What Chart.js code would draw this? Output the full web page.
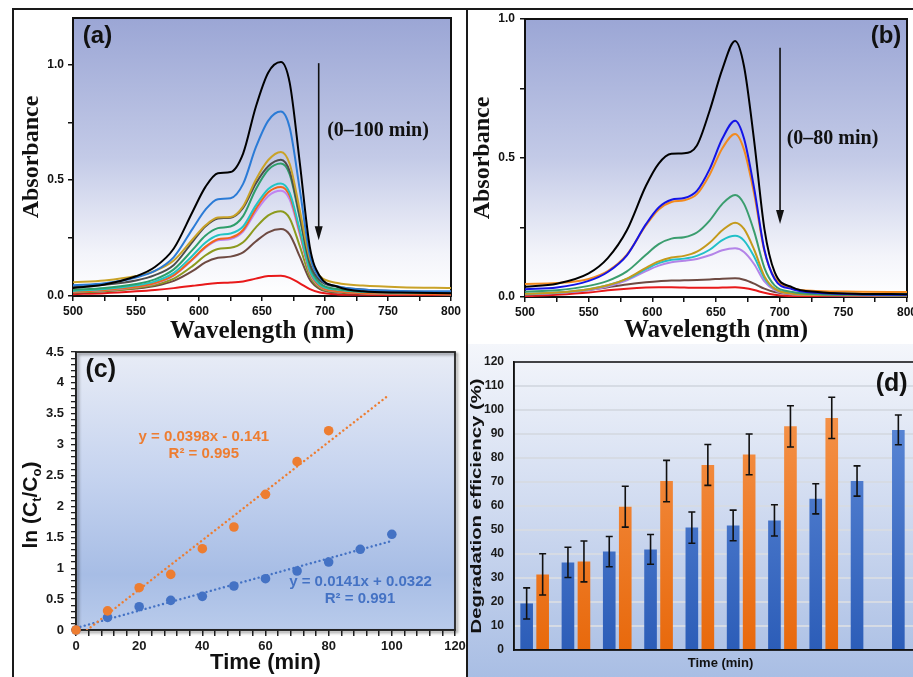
<!DOCTYPE html>
<html>
<head>
<meta charset="utf-8">
<script src="https://cdn.jsdelivr.net/npm/chart.js@4.4.1/dist/chart.umd.min.js"></script>
<style>
html,body{margin:0;padding:0;width:913px;height:677px;overflow:hidden;background:#fff;position:relative;}
canvas{position:absolute;}
.ln{position:absolute;background:#1a1a1a;}
</style>
</head>
<body>
<div class="ln" style="left:12px;top:8px;width:2px;height:669px"></div>
<div class="ln" style="left:12px;top:8px;width:901px;height:2px"></div>
<div class="ln" style="left:466px;top:8px;width:2px;height:669px"></div>
<canvas id="cd" width="472" height="333" style="left:468px;top:344px;width:472px;height:333px"></canvas>
<canvas id="ca" width="452" height="340" style="left:14px;top:10px;width:452px;height:340px"></canvas>
<canvas id="cb" width="445" height="340" style="left:468px;top:10px;width:445px;height:340px"></canvas>
<canvas id="cc" width="452" height="337" style="left:14px;top:340px;width:452px;height:337px"></canvas>
<script>
// ---------------- DATA ----------------
// (a) and (b): UV-vis spectra, wavelength grid (nm)
const wavelengths = [500,525,550,565,580,595,605,615,625,635,645,655,665,672,680,688,696,710,730,760,800];

// (a) 0–100 min
const a_0min   = [0.035,0.050,0.085,0.125,0.205,0.365,0.470,0.530,0.535,0.615,0.815,0.965,1.010,0.920,0.575,0.210,0.085,0.040,0.020,0.015,0.012];
const a_10min  = [0.046,0.055,0.080,0.108,0.168,0.291,0.372,0.418,0.422,0.484,0.640,0.757,0.796,0.726,0.459,0.176,0.077,0.042,0.028,0.022,0.020];
const a_20min  = [0.059,0.067,0.086,0.108,0.153,0.245,0.304,0.339,0.341,0.387,0.501,0.587,0.622,0.570,0.370,0.160,0.085,0.056,0.045,0.038,0.035];
const a_30min  = [0.039,0.048,0.067,0.090,0.134,0.235,0.300,0.335,0.338,0.380,0.485,0.560,0.588,0.538,0.344,0.140,0.067,0.040,0.028,0.020,0.015];
const a_40min  = [0.027,0.035,0.052,0.072,0.115,0.200,0.260,0.293,0.300,0.345,0.460,0.545,0.572,0.525,0.335,0.130,0.055,0.030,0.020,0.016,0.014];
const a_50min  = [0.022,0.030,0.046,0.063,0.100,0.175,0.230,0.262,0.270,0.300,0.390,0.462,0.486,0.445,0.285,0.110,0.048,0.027,0.018,0.015,0.013];
const a_60min  = [0.018,0.026,0.040,0.056,0.090,0.160,0.212,0.245,0.252,0.285,0.375,0.448,0.471,0.432,0.275,0.105,0.042,0.020,0.012,0.010,0.008];
const a_70min  = [0.018,0.025,0.039,0.054,0.088,0.157,0.208,0.240,0.246,0.278,0.363,0.432,0.454,0.416,0.265,0.100,0.040,0.020,0.012,0.010,0.008];
const a_80min  = [0.016,0.022,0.035,0.048,0.075,0.130,0.175,0.203,0.208,0.232,0.295,0.348,0.366,0.335,0.215,0.085,0.035,0.018,0.012,0.010,0.008];
const a_90min  = [0.015,0.020,0.032,0.043,0.065,0.108,0.145,0.165,0.170,0.188,0.235,0.275,0.289,0.265,0.170,0.070,0.030,0.015,0.010,0.008,0.007];
const a_100min = [0.008,0.012,0.020,0.026,0.034,0.044,0.051,0.056,0.058,0.063,0.075,0.086,0.087,0.078,0.055,0.030,0.015,0.007,0.005,0.004,0.004];

// (b) 0–80 min
const b_0min  = [0.037,0.048,0.085,0.140,0.240,0.400,0.480,0.515,0.517,0.545,0.670,0.820,0.921,0.830,0.560,0.245,0.090,0.035,0.018,0.012,0.010];
const b_10min = [0.028,0.034,0.058,0.090,0.150,0.262,0.322,0.350,0.356,0.382,0.460,0.570,0.634,0.570,0.390,0.170,0.065,0.028,0.015,0.010,0.008];
const b_20min = [0.047,0.050,0.065,0.093,0.152,0.258,0.315,0.342,0.348,0.370,0.440,0.535,0.586,0.530,0.370,0.165,0.070,0.032,0.022,0.019,0.018];
const b_30min = [0.019,0.024,0.040,0.058,0.092,0.152,0.190,0.210,0.215,0.232,0.275,0.335,0.367,0.335,0.235,0.105,0.042,0.018,0.010,0.008,0.006];
const b_40min = [0.012,0.016,0.028,0.042,0.066,0.105,0.128,0.142,0.148,0.163,0.195,0.240,0.267,0.245,0.170,0.075,0.030,0.012,0.008,0.006,0.005];
const b_50min = [0.012,0.016,0.028,0.042,0.065,0.100,0.122,0.134,0.138,0.148,0.170,0.205,0.220,0.203,0.145,0.068,0.030,0.015,0.012,0.011,0.010];
const b_60min = [0.010,0.014,0.025,0.038,0.060,0.093,0.113,0.125,0.130,0.137,0.150,0.168,0.175,0.162,0.118,0.056,0.025,0.010,0.007,0.006,0.005];
const b_70min = [0.008,0.014,0.025,0.035,0.045,0.053,0.057,0.059,0.060,0.061,0.063,0.066,0.067,0.062,0.048,0.030,0.018,0.010,0.007,0.006,0.005];
const b_80min = [0.003,0.008,0.016,0.024,0.030,0.034,0.035,0.035,0.034,0.033,0.033,0.034,0.035,0.032,0.025,0.015,0.008,0.003,0.002,0.002,0.002];

// (c) kinetics ln(Ct/Co)
const timeOrange = [0,10,20,30,40,50,60,70,80];
const lnOrange   = [0,0.31,0.685,0.90,1.316,1.667,2.196,2.725,3.226];
const timeBlue   = [0,10,20,30,40,50,60,70,80,90,100];
const lnBlue     = [0,0.205,0.377,0.48,0.545,0.712,0.83,0.955,1.10,1.306,1.549];
// trend-line end points (from the fitted equations shown)
const fitOrangeX = [3.5, 99];
const fitOrangeY = [0, 3.80];
const fitBlueX   = [0, 100];
const fitBlueY   = [0.0322, 1.4422];

// (d) degradation efficiency (%)
const timeCats   = ['10','20','30','40','50','60','70','80','90','100'];
const effBlue    = [19.4,36.5,41,41.9,51,51.9,54,63,70.4,91.7];
const errBlue    = [6.5,6.3,6.3,6.2,6.5,6.4,6.5,6.3,6.3,6.2];
const effOrange  = [31.5,36.9,59.7,70.4,77.1,81.5,93.2,96.7];
const errOrange  = [8.6,8.5,8.5,8.6,8.5,8.5,8.6,8.6];

// ---------------- STYLE / HELPERS ----------------
const SANS = "'Liberation Sans', Arial, sans-serif";
const SERIF = "'Liberation Serif', 'Times New Roman', serif";
Chart.defaults.font.family = SANS;
Chart.defaults.color = '#111';
Chart.defaults.animation = false;

function fixScale(size) {
  return function (scale) {
    if (scale.isHorizontal()) scale.height = size; else scale.width = size;
    scale.paddingLeft = 0; scale.paddingRight = 0; scale.paddingTop = 0; scale.paddingBottom = 0;
  };
}
function bgPlugin(panelStops, areaStops) {
  return { id: 'bg', beforeDraw(chart) {
    const { ctx, chartArea: ca, width, height } = chart;
    ctx.save();
    if (panelStops) {
      const g = ctx.createLinearGradient(0, 0, 0, height);
      panelStops.forEach(s => g.addColorStop(s[0], s[1]));
      ctx.fillStyle = g; ctx.fillRect(0, 0, width, height);
    }
    if (areaStops) {
      const g = ctx.createLinearGradient(0, ca.top, 0, ca.bottom);
      areaStops.forEach(s => g.addColorStop(s[0], s[1]));
      ctx.fillStyle = g; ctx.fillRect(ca.left, ca.top, ca.right - ca.left, ca.bottom - ca.top);
    }
    ctx.restore();
  } };
}
function framePlugin(color, lw, shadow) {
  return { id: 'frame', beforeDatasetsDraw(chart) {
    const { ctx, chartArea: ca } = chart;
    ctx.save();
    if (shadow) { ctx.shadowColor = 'rgba(0,0,0,0.45)'; ctx.shadowBlur = 3; ctx.shadowOffsetX = 2; ctx.shadowOffsetY = 2; }
    ctx.strokeStyle = color; ctx.lineWidth = lw;
    ctx.strokeRect(ca.left, ca.top, ca.right - ca.left, ca.bottom - ca.top);
    ctx.restore();
  } };
}
function textPlugin(items) {
  return { id: 'texts', afterDraw(chart) {
    const ctx = chart.ctx;
    items.forEach(it => {
      ctx.save();
      ctx.translate(it.px, it.py);
      if (it.rotate) ctx.rotate(it.rotate);
      if (it.sx) ctx.scale(it.sx, 1);
      ctx.fillStyle = it.color || '#111';
      ctx.textBaseline = 'middle';
      ctx.textAlign = 'left';
      const fam = it.family || SANS;
      const parts = it.parts || [{ t: it.text }];
      let total = 0;
      const fs = parts.map(p => {
        const s = p.sub ? it.size * 0.62 : it.size;
        const f = 'bold ' + s + 'px ' + fam;
        ctx.font = f;
        const w = ctx.measureText(p.t).width;
        total += w;
        return { f: f, w: w, dy: p.sub ? it.size * 0.3 : 0 };
      });
      let cx = -total / 2;
      parts.forEach((p, i) => { ctx.font = fs[i].f; ctx.fillText(p.t, cx, fs[i].dy); cx += fs[i].w; });
      ctx.restore();
    });
  } };
}
function arrowPlugin(ax, ay1, ay2) {
  return { id: 'arrow', afterDatasetsDraw(chart) {
    const ctx = chart.ctx;
    const x = chart.scales.x.getPixelForValue(ax);
    const y1 = chart.scales.y.getPixelForValue(ay1);
    const y2 = chart.scales.y.getPixelForValue(ay2);
    ctx.save();
    ctx.strokeStyle = '#111'; ctx.fillStyle = '#111'; ctx.lineWidth = 1.6;
    ctx.beginPath(); ctx.moveTo(x, y1); ctx.lineTo(x, y2 - 10); ctx.stroke();
    ctx.beginPath(); ctx.moveTo(x - 4, y2 - 14); ctx.lineTo(x + 4, y2 - 14); ctx.lineTo(x, y2); ctx.closePath(); ctx.fill();
    ctx.restore();
  } };
}
function errPlugin(errs) {
  return { id: 'errbars', afterDatasetsDraw(chart) {
    const ctx = chart.ctx, ys = chart.scales.y;
    ctx.save();
    ctx.strokeStyle = '#111'; ctx.lineWidth = 1.6;
    errs.forEach((err, di) => {
      const meta = chart.getDatasetMeta(di);
      const vals = chart.data.datasets[di].data;
      meta.data.forEach((bar, j) => {
        const x = bar.x;
        const yt = ys.getPixelForValue(vals[j] + err[j]);
        const yb = ys.getPixelForValue(vals[j] - err[j]);
        ctx.beginPath();
        ctx.moveTo(x, yt); ctx.lineTo(x, yb);
        ctx.moveTo(x - 3.5, yt); ctx.lineTo(x + 3.5, yt);
        ctx.moveTo(x - 3.5, yb); ctx.lineTo(x + 3.5, yb);
        ctx.stroke();
      });
    });
    ctx.restore();
  } };
}
function vGrad(top, bottom) {
  return function (c) {
    const ch = c.chart, ca = ch.chartArea;
    if (!ca) return bottom;
    const g = ch.ctx.createLinearGradient(0, ca.bottom, 0, ca.top);
    g.addColorStop(0, bottom); g.addColorStop(1, top);
    return g;
  };
}
const isMult = (v, m) => Math.abs(v / m - Math.round(v / m)) < 1e-6;

// ---------------- (a) / (b) spectra ----------------
const specBg = [[0, '#9ba6d5'], [0.5, '#c3cae7'], [0.85, '#f3f4fa'], [1, '#ffffff']];
function spectrumChart(id, curves, colors, L) {
  return new Chart(document.getElementById(id), {
    type: 'line',
    data: { datasets: curves.map((arr, i) => ({
      data: wavelengths.map((w, j) => ({ x: w, y: arr[j] })),
      borderColor: colors[i], borderWidth: 2, pointRadius: 0, fill: false,
      cubicInterpolationMode: 'monotone'
    })) },
    options: {
      responsive: false, animation: false, events: [],
      layout: { padding: { left: 0, top: L.top, right: L.right, bottom: 0 } },
      plugins: { legend: { display: false }, tooltip: { enabled: false } },
      scales: {
        x: { type: 'linear', min: 500, max: 800, afterFit: fixScale(L.xH),
          ticks: { stepSize: 25, autoSkip: false, maxRotation: 0, padding: 3, color: '#111',
            font: { size: 12, weight: 'bold' }, callback: v => isMult(v, 50) ? String(v) : '' },
          grid: { drawOnChartArea: false, drawTicks: true, tickLength: 5, color: '#111', lineWidth: 1.5 },
          border: { display: true, color: '#111', width: 2 },
          title: { display: true, text: 'Wavelength (nm)', color: '#111',
            font: { family: SERIF, size: 25, weight: 'bold' }, padding: { top: 0, bottom: L.xtp } } },
        y: { type: 'linear', min: 0, max: L.yMax, afterFit: fixScale(L.yW),
          ticks: { stepSize: 0.25, includeBounds: false, autoSkip: false, padding: L.yPad, color: '#111',
            font: { size: 12, weight: 'bold' }, callback: v => isMult(v, 0.5) ? v.toFixed(1) : '' },
          grid: { drawOnChartArea: false, drawTicks: true, tickLength: 5, color: '#111', lineWidth: 1.5 },
          border: { display: true, color: '#111', width: 2 },
          title: { display: true, text: 'Absorbance', color: '#111',
            font: { family: SERIF, size: 24, weight: 'bold' }, padding: { top: L.ytp, bottom: 0 } } }
      }
    },
    plugins: [bgPlugin(null, specBg), framePlugin('#111', 2, false), arrowPlugin(L.ax, L.ay1, L.ay2), textPlugin(L.texts)]
  });
}

spectrumChart('ca',
  [a_0min, a_10min, a_20min, a_30min, a_40min, a_50min, a_60min, a_70min, a_80min, a_90min, a_100min],
  ['#000000', '#2b7bd6', '#c9a227', '#4d4d4d', '#2e9e6b', '#22c4c4', '#f2661c', '#c084f0', '#8c9a1e', '#6e4a42', '#e8191a'],
  { top: 8, right: 15, xH: 54, yW: 59, yMax: 1.2, yPad: 4, xtp: 3.6, ytp: 3.6,
    ax: 695, ay1: 1.005, ay2: 0.241,
    texts: [
      { text: '(a)', px: 83.5, py: 26, size: 24 },
      { text: '(0–100 min)', px: 364, py: 121, size: 20, family: SERIF }
    ] });

spectrumChart('cb',
  [b_0min, b_10min, b_20min, b_30min, b_40min, b_50min, b_60min, b_70min, b_80min],
  ['#000000', '#1414e6', '#f28a1e', '#3a9d6e', '#c49a1c', '#22c0c8', '#b384e8', '#6e4a42', '#e8191a'],
  { top: 9, right: 6, xH: 53, yW: 57, yMax: 1.0, yPad: 5, xtp: 4.6, ytp: 0,
    ax: 700.3, ay1: 0.897, ay2: 0.263,
    texts: [
      { text: '(b)', px: 418, py: 26, size: 24 },
      { text: '(0–80 min)', px: 364.5, py: 129, size: 20, family: SERIF }
    ] });

// ---------------- (c) kinetics ----------------
const ORANGE = '#ed7d31', BLUE = '#4472c4';
new Chart(document.getElementById('cc'), {
  type: 'scatter',
  data: { datasets: [
    { data: timeOrange.map((t, i) => ({ x: t, y: lnOrange[i] })), backgroundColor: ORANGE, borderWidth: 0, pointRadius: 4.8, clip: false },
    { data: timeBlue.map((t, i) => ({ x: t, y: lnBlue[i] })), backgroundColor: BLUE, borderWidth: 0, pointRadius: 4.8, clip: false },
    { data: fitOrangeX.map((t, i) => ({ x: t, y: fitOrangeY[i] })), showLine: true, pointRadius: 0,
      borderColor: ORANGE, borderWidth: 2.4, borderDash: [0.01, 4.5], borderCapStyle: 'round' },
    { data: fitBlueX.map((t, i) => ({ x: t, y: fitBlueY[i] })), showLine: true, pointRadius: 0,
      borderColor: BLUE, borderWidth: 2.4, borderDash: [0.01, 4.5], borderCapStyle: 'round' }
  ] },
  options: {
    responsive: false, animation: false, events: [],
    layout: { padding: { left: 0, top: 12, right: 11, bottom: 0 } },
    plugins: { legend: { display: false }, tooltip: { enabled: false } },
    scales: {
      x: { type: 'linear', min: 0, max: 120, afterFit: fixScale(47),
        ticks: { stepSize: 4, autoSkip: false, maxRotation: 0, padding: 3, color: '#1a1a1a',
          font: { size: 13, weight: 'bold' }, callback: v => isMult(v, 20) ? String(v) : '' },
        grid: { drawOnChartArea: false, drawTicks: true, tickLength: 6, color: '#222', lineWidth: 1.5 },
        border: { display: true, color: '#222', width: 1.5 },
        title: { display: true, text: 'Time (min)', color: '#111',
          font: { size: 22, weight: 'bold' }, padding: { top: 0, bottom: 0.8 } } },
      y: { type: 'linear', min: 0, max: 4.5, afterFit: fixScale(62),
        ticks: { stepSize: 0.1, autoSkip: false, padding: 7, color: '#1a1a1a',
          font: { size: 13, weight: 'bold' }, callback: v => isMult(v, 0.5) ? String(Math.round(v * 10) / 10) : '' },
        grid: { drawOnChartArea: false, drawTicks: true, tickLength: 5, color: '#222', lineWidth: 1.3 },
        border: { display: true, color: '#222', width: 1.5 } }
    }
  },
  plugins: [
    bgPlugin(null, [[0, '#e8ecf6'], [0.45, '#c5d3ef'], [0.8, '#a7bde5'], [1, '#b9cbeb']]),
    framePlugin('#222', 1.8, true),
    textPlugin([
      { text: '(c)', px: 86.8, py: 30, size: 25 },
      { text: 'y = 0.0398x - 0.141', px: 189.8, py: 96.7, size: 15, color: ORANGE },
      { text: 'R² = 0.995', px: 189.8, py: 114.3, size: 15, color: ORANGE },
      { text: 'y = 0.0141x + 0.0322', px: 346.5, py: 241.7, size: 15, color: BLUE },
      { text: 'R² = 0.991', px: 346, py: 259.3, size: 15, color: BLUE },
      { parts: [{ t: 'ln (C' }, { t: 't', sub: true }, { t: '/C' }, { t: 'o', sub: true }, { t: ')' }],
        px: 17, py: 165, size: 21, rotate: -Math.PI / 2 }
    ])
  ]
});

// ---------------- (d) degradation efficiency ----------------
new Chart(document.getElementById('cd'), {
  type: 'bar',
  data: { labels: timeCats, datasets: [
    { data: effBlue, backgroundColor: vGrad('#6590dc', '#2c5db8'), borderWidth: 0,
      categoryPercentage: 0.775, barPercentage: 0.79 },
    { data: effOrange, backgroundColor: vGrad('#f79a55', '#e8690c'), borderWidth: 0,
      categoryPercentage: 0.775, barPercentage: 0.79 }
  ] },
  options: {
    responsive: false, animation: false, events: [],
    layout: { padding: { left: 0, top: 18, right: 13, bottom: 0 } },
    plugins: { legend: { display: false }, tooltip: { enabled: false } },
    scales: {
      x: { type: 'category', afterFit: fixScale(27),
        ticks: { display: false },
        grid: { display: false },
        border: { display: true, color: '#111', width: 1.5 },
        title: { display: true, text: 'Time (min)', color: '#111',
          font: { size: 13, weight: 'bold' }, padding: { top: 0, bottom: 6.2 } } },
      y: { type: 'linear', min: 0, max: 120, afterFit: fixScale(46),
        ticks: { stepSize: 10, autoSkip: false, padding: 10, color: '#1a1a1a',
          font: { size: 12, weight: 'bold' } },
        grid: { drawTicks: false, color: c => (c.tick && c.tick.value === 0) ? 'rgba(0,0,0,0)' : '#d6dbe4', lineWidth: 2 },
        border: { display: true, color: '#111', width: 1.5 } }
    }
  },
  plugins: [
    bgPlugin([[0, '#f4f6fb'], [0.45, '#d3ddf1'], [1, '#a9bee4']], null),
    framePlugin('#111', 1.5, false),
    errPlugin([errBlue, errOrange]),
    textPlugin([
      { text: '(d)', px: 423.7, py: 40, size: 25 },
      { text: 'Degradation efficiency (%)', px: 9.5, py: 162, size: 14, sx: 1.45, rotate: -Math.PI / 2 }
    ])
  ]
});
</script>
</body>
</html>
